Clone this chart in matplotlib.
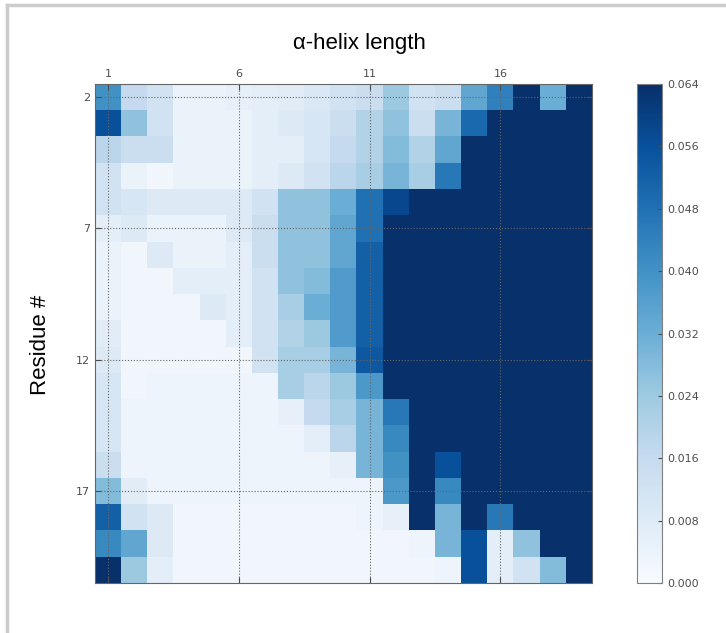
import numpy as np
import matplotlib
matplotlib.use("Agg")
import matplotlib.pyplot as plt
from matplotlib.lines import Line2D

# helix length on x (1..19), residue number on y (2..20)
helix_length = list(range(1, 20))
residues = list(range(2, 21))
D = 0.064  # saturated cells

prob = [
    [0.040, 0.016, 0.012, 0.004, 0.004, 0.005, 0.006, 0.007, 0.009, 0.012, 0.014, 0.024, 0.012, 0.014, 0.034, 0.044, D, 0.032, D],
    [0.056, 0.026, 0.012, 0.004, 0.004, 0.004, 0.006, 0.008, 0.010, 0.014, 0.020, 0.026, 0.014, 0.030, 0.050, D, D, D, D],
    [0.018, 0.014, 0.014, 0.004, 0.004, 0.004, 0.006, 0.006, 0.010, 0.016, 0.020, 0.028, 0.020, 0.034, D, D, D, D, D],
    [0.012, 0.004, 0.002, 0.004, 0.004, 0.004, 0.006, 0.008, 0.012, 0.018, 0.022, 0.030, 0.022, 0.046, D, D, D, D, D],
    [0.012, 0.010, 0.008, 0.008, 0.008, 0.008, 0.012, 0.026, 0.026, 0.032, 0.048, 0.058, D, D, D, D, D, D, D],
    [0.006, 0.008, 0.004, 0.004, 0.004, 0.008, 0.014, 0.026, 0.026, 0.034, 0.048, D, D, D, D, D, D, D, D],
    [0.004, 0.002, 0.008, 0.004, 0.004, 0.006, 0.014, 0.026, 0.026, 0.034, 0.052, D, D, D, D, D, D, D, D],
    [0.004, 0.002, 0.002, 0.006, 0.006, 0.006, 0.012, 0.026, 0.028, 0.037, 0.052, D, D, D, D, D, D, D, D],
    [0.004, 0.002, 0.002, 0.002, 0.008, 0.006, 0.012, 0.022, 0.032, 0.037, 0.052, D, D, D, D, D, D, D, D],
    [0.007, 0.002, 0.002, 0.002, 0.002, 0.006, 0.012, 0.020, 0.024, 0.037, 0.052, D, D, D, D, D, D, D, D],
    [0.008, 0.002, 0.002, 0.002, 0.002, 0.002, 0.012, 0.022, 0.022, 0.030, 0.054, D, D, D, D, D, D, D, D],
    [0.010, 0.002, 0.003, 0.003, 0.003, 0.003, 0.003, 0.022, 0.018, 0.024, 0.038, D, D, D, D, D, D, D, D],
    [0.010, 0.003, 0.003, 0.003, 0.003, 0.003, 0.003, 0.005, 0.016, 0.022, 0.030, 0.046, D, D, D, D, D, D, D],
    [0.010, 0.003, 0.003, 0.003, 0.003, 0.003, 0.003, 0.003, 0.006, 0.018, 0.030, 0.042, D, D, D, D, D, D, D],
    [0.014, 0.003, 0.003, 0.003, 0.003, 0.003, 0.003, 0.003, 0.003, 0.005, 0.030, 0.040, D, 0.056, D, D, D, D, D],
    [0.028, 0.007, 0.003, 0.003, 0.003, 0.003, 0.003, 0.003, 0.003, 0.003, 0.003, 0.038, D, 0.042, D, D, D, D, D],
    [0.052, 0.012, 0.008, 0.002, 0.002, 0.002, 0.002, 0.002, 0.002, 0.002, 0.003, 0.005, D, 0.030, D, 0.046, D, D, D],
    [0.042, 0.034, 0.008, 0.002, 0.002, 0.002, 0.002, 0.002, 0.002, 0.002, 0.002, 0.002, 0.003, 0.030, 0.056, 0.006, 0.026, D, D],
    [0.064, 0.024, 0.006, 0.002, 0.002, 0.002, 0.002, 0.002, 0.002, 0.002, 0.002, 0.002, 0.002, 0.003, 0.056, 0.006, 0.012, 0.028, D],
]

fig = plt.figure(figsize=(7.26, 6.33), dpi=100)
ax = fig.add_axes([95 / 726, 50 / 633, 497 / 726, 499 / 633])
cax = fig.add_axes([637 / 726, 50 / 633, 25 / 726, 499 / 633])

im = ax.imshow(np.array(prob), cmap="Blues", vmin=0, vmax=0.064,
               interpolation="nearest", aspect="auto",
               extent=[helix_length[0] - 0.5, helix_length[-1] + 0.5,
                       residues[-1] + 0.5, residues[0] - 0.5])

ax.set_xticks([1, 6, 11, 16])
ax.set_yticks([2, 7, 12, 17])
ax.xaxis.tick_top()
ax.tick_params(direction="in", length=4, width=0.8, labelsize=8, colors="0.3",
               top=True, bottom=True, left=True, right=True,
               labeltop=True, labelbottom=False, labelleft=True, labelright=False)
ax.grid(True, ls=":", color="0.4", lw=0.8)
for s in ax.spines.values():
    s.set_color("0.4")

cb = fig.colorbar(im, cax=cax, ticks=np.arange(0, 0.0641, 0.008))
cb.ax.yaxis.set_major_formatter(matplotlib.ticker.FormatStrFormatter("%.3f"))
cb.ax.tick_params(labelsize=8, colors="0.3", length=3, direction="in")
cb.outline.set_edgecolor("0.5")

fig.text(359 / 726, 1 - 44 / 633, "\u03b1-helix length", ha="center", va="center",
         fontsize=16, family="Liberation Sans")
fig.text(40 / 726, 1 - 345 / 633, "Residue #", ha="center", va="center",
         rotation=90, fontsize=16, family="Liberation Sans")

# light frame on the left and top edges
fig.add_artist(Line2D([7 / 726, 7 / 726], [0, 1 - 5 / 633], transform=fig.transFigure,
                      color="0.8", lw=2.5))
fig.add_artist(Line2D([7 / 726, 1], [1 - 5 / 633, 1 - 5 / 633], transform=fig.transFigure,
                      color="0.8", lw=2.5))

fig.savefig("out.png", dpi=100)
